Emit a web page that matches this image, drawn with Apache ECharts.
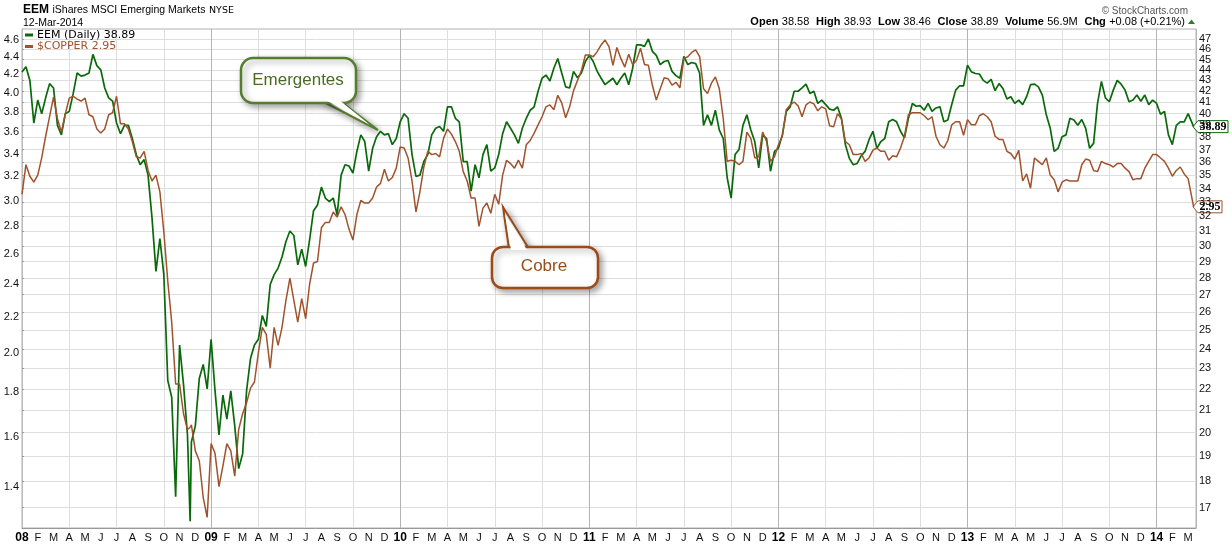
<!DOCTYPE html>
<html><head><meta charset="utf-8">
<script src="https://cdn.jsdelivr.net/npm/echarts@6/dist/echarts.min.js"></script>
<style>html,body{margin:0;padding:0;background:#fff}#c{width:1232px;height:545px}</style>
</head><body><div id="c"></div>
<script>
// ---- DATA ----
const monthLetters = ['J','F','M','A','M','J','J','A','S','O','N','D'];
// quarter-month readings starting Jan 2008 (month index 0, 0.25, 0.5, ...)
const eemQuarterMonth = [
  43.8, 44.3, 43.0, 39.2, 41.2, 40.0, 41.4, 42.7,
  42.3, 39.0, 38.2, 40.0, 40.2, 41.8, 43.7, 43.4,
  43.5, 43.7, 45.5, 44.4, 44.0, 42.3, 41.4, 41.1,
  39.2, 38.3, 39.0, 39.0, 37.9, 36.6, 35.8, 36.2,
  35.0, 31.9, 28.4, 30.5, 28.2, 22.4, 21.6, 17.4,
  24.2, 22.2, 19.9, 19.6, 20.3, 22.5, 23.2, 22.0,
  24.5, 21.9, 19.9, 21.7, 20.6, 21.9, 20.3, 18.5,
  19.1, 21.9, 23.5, 24.2, 24.5, 25.8, 25.2, 27.6,
  28.2, 28.6, 29.3, 30.3, 31.0, 30.7, 28.8, 29.8,
  28.7, 30.4, 32.4, 32.8, 34.1, 33.3, 33.05, 33.3,
  32.1, 35.0, 35.8, 35.7, 35.15, 36.85, 38.2, 37.65,
  35.3, 37.1, 38.05, 38.5, 38.2, 38.3, 37.4, 37.9,
  39.3, 40.0, 39.6, 36.6, 34.9, 35.0, 36.05, 36.6,
  38.2, 38.75, 38.9, 38.5, 40.6, 40.6, 39.6, 39.3,
  36.05, 36.05, 33.8, 35.8, 34.8, 36.6, 37.4, 35.3,
  35.55, 36.6, 38.3, 39.3, 38.75, 38.2, 37.5, 38.75,
  39.6, 40.3, 40.6, 42.0, 43.2, 43.5, 42.95, 44.15,
  45.1, 43.7, 42.4, 42.3, 43.85, 43.25, 43.7, 44.8,
  45.4, 44.8, 43.85, 43.2, 42.6, 42.9, 43.2, 42.6,
  43.2, 43.7, 42.6, 44.15, 46.45, 46.45, 46.3, 47.05,
  45.8, 45.4, 44.5, 44.8, 44.9, 43.85, 43.45, 43.2,
  45.3, 44.5, 44.7, 44.6, 43.7, 39.0, 39.9, 39.0,
  40.3, 38.6, 37.9, 34.8, 33.3, 36.6, 37.0, 39.0,
  39.9, 38.6, 37.65, 35.55, 38.2, 37.9, 35.3, 36.85,
  37.1, 38.2, 40.2, 40.6, 42.0, 42.0, 42.3, 42.65,
  41.8, 42.0, 40.9, 41.2, 40.8, 40.4, 40.3, 40.6,
  39.6, 37.4, 36.3, 35.8, 35.9, 36.5, 36.85, 37.8,
  38.5, 37.1, 37.65, 37.9, 39.3, 39.5, 39.3, 38.5,
  37.95, 39.6, 40.9, 40.65, 40.7, 40.3, 40.9, 40.2,
  40.5, 40.6, 39.3, 39.45, 40.8, 42.1, 42.5, 42.5,
  44.45, 43.8, 43.65, 43.6, 43.0, 42.75, 43.1, 42.05,
  42.7, 42.25, 41.3, 41.5, 40.9, 41.2, 40.8, 41.5,
  42.6, 42.65, 42.4, 41.65, 39.9, 38.75, 36.85, 37.1,
  38.05, 38.2, 39.6, 39.45, 39.0, 39.5, 38.75, 37.1,
  37.5, 40.9, 42.9, 41.4, 41.05, 42.1, 43.0, 42.65,
  42.1, 41.05, 41.2, 41.65, 41.1, 41.65, 40.8, 41.2,
  40.9, 39.95, 40.2, 38.2, 37.4, 39.0, 39.3, 39.3,
  40.0
];
const copperQuarterMonth = [
  3.05, 3.30, 3.20, 3.15, 3.21, 3.36, 3.56, 3.75,
  3.95, 3.73, 3.60, 3.78, 3.94, 3.96, 3.93, 3.91,
  3.94, 3.77, 3.75, 3.63, 3.59, 3.63, 3.77, 3.79,
  3.96, 3.68, 3.68, 3.63, 3.51, 3.37, 3.36, 3.42,
  3.25, 3.16, 3.21, 3.07, 2.76, 2.42, 2.17, 1.84,
  1.84, 1.70, 1.63, 1.65, 1.54, 1.50, 1.36, 1.29,
  1.57, 1.53, 1.40, 1.48, 1.57, 1.54, 1.44, 1.63,
  1.70, 1.75, 1.82, 1.85, 2.00, 2.14, 2.10, 1.92,
  2.14, 2.04, 2.14, 2.30, 2.44, 2.30, 2.17, 2.31,
  2.19, 2.40, 2.54, 2.55, 2.79, 2.83, 2.83, 2.91,
  2.87, 2.95, 2.89, 2.78, 2.70, 2.89, 3.00, 2.98,
  2.98, 3.02, 3.11, 3.14, 3.26, 3.16, 3.19, 3.27,
  3.46, 3.45, 3.36, 3.16, 2.91, 3.07, 3.28, 3.42,
  3.39, 3.40, 3.37, 3.54, 3.63, 3.58, 3.51, 3.42,
  3.24, 3.16, 3.02, 3.02, 2.80, 2.94, 2.98, 2.90,
  3.05, 2.97, 3.21, 3.34, 3.31, 3.27, 3.34, 3.27,
  3.48, 3.52, 3.59, 3.67, 3.75, 3.85, 3.87, 3.82,
  3.97, 3.89, 3.74, 3.85, 4.02, 4.13, 4.24, 4.42,
  4.42, 4.40, 4.46, 4.54, 4.60, 4.52, 4.30, 4.51,
  4.38, 4.28, 4.43, 4.31, 4.36, 4.50, 4.31, 4.30,
  4.08, 3.92, 4.04, 4.16, 4.15, 4.08, 4.11, 4.05,
  4.38, 4.40, 4.45, 4.48, 4.40, 4.04, 3.99, 4.10,
  4.17, 4.04, 3.73, 3.33, 3.34, 3.33, 3.30, 3.33,
  3.60, 3.54, 3.36, 3.37, 3.60, 3.51, 3.33, 3.37,
  3.48, 3.56, 3.82, 3.87, 3.90, 3.86, 3.75, 3.87,
  3.90, 3.88, 3.81, 3.85, 3.83, 3.66, 3.65, 3.78,
  3.73, 3.51, 3.48, 3.39, 3.39, 3.40, 3.33, 3.36,
  3.43, 3.45, 3.42, 3.42, 3.34, 3.38, 3.37, 3.45,
  3.56, 3.77, 3.79, 3.79, 3.79, 3.76, 3.72, 3.75,
  3.56, 3.48, 3.45, 3.52, 3.67, 3.70, 3.70, 3.57,
  3.72, 3.67, 3.67, 3.76, 3.78, 3.75, 3.70, 3.56,
  3.53, 3.53, 3.42, 3.40, 3.35, 3.43, 3.16, 3.22,
  3.10, 3.36, 3.33, 3.30, 3.36, 3.21, 3.17, 3.07,
  3.15, 3.17, 3.16, 3.16, 3.16, 3.30, 3.35, 3.34,
  3.25, 3.24, 3.33, 3.31, 3.30, 3.28, 3.31, 3.31,
  3.27, 3.24, 3.17, 3.18, 3.18, 3.27, 3.33, 3.39,
  3.39, 3.36, 3.33, 3.27, 3.20, 3.25, 3.28, 3.22,
  3.18
];
// extra readings: Nov-2008 spike low and the last close (12-Mar-2014)
const extraMonths = [10.67, 74.35];
const extraEem    = [16.5, 38.89];
const extraCopper = [1.64, 2.95];
const copperTicks = [1.4, 1.6, 1.8, 2.0, 2.2, 2.4, 2.6, 2.8, 3.0, 3.2, 3.4, 3.6, 3.8, 4.0, 4.2, 4.4, 4.6];
const eemTicks = [17,18,19,20,21,22,23,24,25,26,27,28,29,30,31,32,33,34,35,36,37,38,39,40,41,42,43,44,45,46,47];
const lastEem = 38.89, lastCopper = 2.95;

// ---- BUILD ----
const rows = [];
eemQuarterMonth.forEach((v, i) => rows.push([i * 0.25, v, copperQuarterMonth[i]]));
extraMonths.forEach((t, i) => rows.push([t, extraEem[i], extraCopper[i]]));
rows.sort((a, b) => a[0] - b[0]);
const eemData = rows.map(r => [r[0], Math.log(r[1])]);
const cuData = rows.map(r => [r[0], Math.log(r[2])]);

const monthVals = []; for (let m = 0; m <= 74; m++) monthVals.push(m);
const quarterVals = []; for (let m = 0; m <= 74; m += 3) quarterVals.push(m);
const GREEN = '#0a690a', BROWN = '#a0522d';
const FONT = 'Arial, "Liberation Sans", sans-serif';
const eemMin = Math.log(16.26), eemMax = Math.log(48.08);
// an empty sentinel label above the last tick keeps the edge-overlap check away from "47"
const eemLabelVals = eemTicks.map(Math.log).concat([Math.log(48.0)]);

const chart = echarts.init(document.getElementById('c'), null, {renderer: 'canvas'});
chart.setOption({
  animation: false,
  backgroundColor: '#fff',
  grid: {left: 22, right: 36, top: 29, bottom: 17, show: true, borderColor: '#b0b0b0', borderWidth: 1},
  xAxis: [{
    type: 'value', min: 0, max: 74.5,
    axisLine: {show: true, lineStyle: {color: '#999'}},
    axisTick: {show: false, customValues: quarterVals},
    axisLabel: {
      customValues: monthVals, margin: 4, fontSize: 11, color: '#111', fontFamily: FONT,
      showMinLabel: true, showMaxLabel: true,
      formatter: v => { const m = Math.round(v); return m % 12 === 0 ? '{yr|' + String(8 + m / 12).padStart(2, '0') + '}' : monthLetters[m % 12]; },
      rich: {yr: {fontWeight: 'bold', fontSize: 12, color: '#000', fontFamily: FONT}}
    },
    splitLine: {show: true, lineStyle: {color: '#dedede', width: 1}}
  }, {
    type: 'value', min: 0, max: 74.5, interval: 12, position: 'bottom',
    axisLine: {show: false}, axisTick: {show: false}, axisLabel: {show: false},
    splitLine: {show: true, lineStyle: {color: '#b4b4b4', width: 1}}
  }],
  yAxis: [{
    type: 'value', position: 'left', min: Math.log(1.254), max: Math.log(4.737),
    axisLine: {show: true, lineStyle: {color: '#999'}},
    axisTick: {show: false},
    axisLabel: {customValues: copperTicks.map(Math.log), formatter: v => Math.exp(v).toFixed(1), margin: 3, fontSize: 11, color: '#111', fontFamily: FONT, showMinLabel: true, showMaxLabel: true},
    splitLine: {show: false}
  }, {
    type: 'value', position: 'right', min: eemMin, max: eemMax,
    axisLine: {show: true, lineStyle: {color: '#bbb'}},
    axisTick: {show: true, length: 2, customValues: eemTicks.map(Math.log), lineStyle: {color: '#999'}},
    axisLabel: {customValues: eemLabelVals, margin: 3, fontSize: 11, color: '#111', fontFamily: FONT,
      formatter: v => { const n = Math.exp(v); return n > 47.5 ? '' : String(Math.round(n)); }},
    splitLine: {show: true, lineStyle: {color: '#dedede', width: 1}}
  }],
  series: [{
    name: 'EEM', type: 'line', xAxisIndex: 0, yAxisIndex: 1, data: eemData,
    symbol: 'none', lineStyle: {color: GREEN, width: 1.7}, z: 3
  }, {
    name: '$COPPER', type: 'line', xAxisIndex: 0, yAxisIndex: 0, data: cuData,
    symbol: 'none', lineStyle: {color: BROWN, width: 1.5}, z: 4
  }]
});

const yE = chart.convertToPixel({yAxisIndex: 1}, Math.log(lastEem));
const yC = chart.convertToPixel({yAxisIndex: 0}, Math.log(lastCopper));
const shadow = {shadowBlur: 6, shadowColor: 'rgba(0,0,0,0.35)', shadowOffsetX: 3, shadowOffsetY: 3};

function tag(y, txt, color, w) {
  return {type: 'group', z: 100, children: [
    {type: 'polygon', shape: {points: [[1193, y], [1198, y - 6], [1198 + w, y - 6], [1198 + w, y + 6], [1198, y + 6]]}, style: {fill: '#fff', stroke: color, lineWidth: 1}},
    {type: 'text', style: {x: 1198 + w / 2, y: y + 0.5, text: txt, font: 'bold 12px "Liberation Serif", serif', fill: '#000', align: 'center', verticalAlign: 'middle'}}
  ]};
}

chart.setOption({graphic: [
  {type: 'text', style: {x: 23, y: 10, text: 'EEM', font: 'bold 12px ' + FONT, fill: '#000', verticalAlign: 'middle'}},
  {type: 'text', style: {x: 52.5, y: 10.5, text: 'iShares MSCI Emerging Markets', font: '10.5px ' + FONT, fill: '#000', verticalAlign: 'middle'}},
  {type: 'text', style: {x: 209, y: 11, text: 'NYSE', font: '9.5px "DejaVu Sans", sans-serif', fill: '#000', verticalAlign: 'middle'}},
  {type: 'text', style: {x: 23, y: 23.5, text: '12-Mar-2014', font: '10.5px ' + FONT, fill: '#000', verticalAlign: 'middle'}},
  {type: 'text', style: {x: 1188, y: 11, text: '© StockCharts.com', font: '10px ' + FONT, fill: '#555', align: 'right', verticalAlign: 'middle'}},
  {type: 'text', style: {x: 1185, y: 22, align: 'right', verticalAlign: 'middle',
    text: '{b|Open} {n|38.58}  {b|High} {n|38.93}  {b|Low} {n|38.46}  {b|Close} {n|38.89}  {b|Volume} {n|56.9M}  {b|Chg} {n|+0.08 (+0.21%)}',
    rich: {b: {font: 'bold 11px ' + FONT, fill: '#000'}, n: {font: '11px ' + FONT, fill: '#000'}}}},
  {type: 'polygon', shape: {points: [[1188, 24], [1191.5, 19.5], [1195, 24]]}, style: {fill: '#2e7d2e'}},
  // legend
  {type: 'line', shape: {x1: 25, y1: 35, x2: 33, y2: 35}, style: {stroke: GREEN, lineWidth: 3}},
  {type: 'text', style: {x: 37, y: 35, text: 'EEM (Daily) 38.89', font: '11px "DejaVu Sans", sans-serif', fill: '#000', verticalAlign: 'middle'}},
  {type: 'line', shape: {x1: 25, y1: 46.5, x2: 33, y2: 46.5}, style: {stroke: BROWN, lineWidth: 3}},
  {type: 'text', style: {x: 37, y: 46.5, text: '$COPPER 2.95', font: '11px "DejaVu Sans", sans-serif', fill: BROWN, verticalAlign: 'middle'}},
  // callout Emergentes
  {type: 'group', z: 50, children: [
    {type: 'polygon', shape: {points: [[322, 101], [378, 130], [340, 101]]}, style: Object.assign({fill: '#fff', stroke: '#557d2b', lineWidth: 2}, shadow)},
    {type: 'rect', shape: {x: 241, y: 58, width: 115, height: 45, r: 12}, style: Object.assign({fill: '#fff', stroke: '#557d2b', lineWidth: 2.5}, shadow)},
    {type: 'polygon', shape: {points: [[324, 99], [370, 125], [338, 99]]}, style: {fill: '#fff'}},
    {type: 'text', style: {x: 298, y: 80.5, text: 'Emergentes', font: '17px ' + FONT, fill: '#4b6b25', align: 'center', verticalAlign: 'middle'}}
  ]},
  // callout Cobre
  {type: 'group', z: 50, children: [
    {type: 'polygon', shape: {points: [[509, 249], [503, 207], [529, 249]]}, style: Object.assign({fill: '#fff', stroke: '#9c4a17', lineWidth: 2}, shadow)},
    {type: 'rect', shape: {x: 492, y: 247, width: 106, height: 41, r: 11}, style: Object.assign({fill: '#fff', stroke: '#9c4a17', lineWidth: 2.5}, shadow)},
    {type: 'polygon', shape: {points: [[511, 250], [505, 214], [527, 250]]}, style: {fill: '#fff'}},
    {type: 'text', style: {x: 544, y: 266, text: 'Cobre', font: '17px ' + FONT, fill: '#9c4a17', align: 'center', verticalAlign: 'middle'}}
  ]},
  tag(yE, '38.89', GREEN, 30),
  tag(yC, '2.95', BROWN, 24)
]});
</script>
</body></html>
